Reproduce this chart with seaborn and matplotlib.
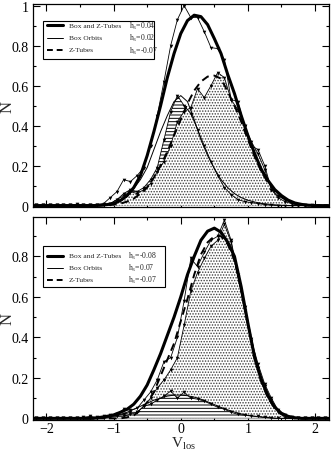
import numpy as np
import pandas as pd
import matplotlib
matplotlib.use("Agg")
import matplotlib.pyplot as plt
from matplotlib.lines import Line2D
from matplotlib.patches import Rectangle
from matplotlib.ticker import MultipleLocator
import seaborn as sns

# ---------------- data ----------------
# smooth Gauss-Hermite fits sampled every 0.1 from -2.2 to 2.2 (45 values)
x_fit = np.round(np.arange(-2.2, 2.2001, 0.1), 2)
# noisy simulation histograms, bin centres -2.15 .. 2.15 (44 values)
x_hist = np.round(np.arange(-2.15, 2.1501, 0.1), 2)

# ---- top panel ----
top_fit_total = [0, 0, 0, 0, 0, 0, 0, 0, 0, 0,
                 0.002, 0.005, 0.01, 0.025, 0.05, 0.09, 0.15, 0.25, 0.37, 0.50,
                 0.64, 0.76, 0.86, 0.925, 0.952, 0.945, 0.905, 0.835, 0.76, 0.655,
                 0.56, 0.45, 0.35, 0.26, 0.18, 0.125, 0.08, 0.05, 0.027, 0.013,
                 0.006, 0.002, 0, 0, 0]
top_fit_box = [0, 0, 0, 0, 0, 0, 0, 0, 0, 0,
               0.002, 0.005, 0.01, 0.025, 0.045, 0.085, 0.13, 0.19, 0.28, 0.37,
               0.45, 0.52, 0.55, 0.52, 0.43, 0.33, 0.25, 0.185, 0.13, 0.09,
               0.06, 0.04, 0.027, 0.018, 0.011, 0.007, 0.004, 0.002, 0, 0,
               0, 0, 0, 0, 0]
top_fit_ztube = [0, 0, 0, 0, 0, 0, 0, 0, 0, 0,
                 0, 0.002, 0.005, 0.01, 0.02, 0.035, 0.06, 0.09, 0.14, 0.20,
                 0.27, 0.35, 0.43, 0.51, 0.575, 0.62, 0.645, 0.65, 0.635, 0.57,
                 0.50, 0.42, 0.33, 0.245, 0.17, 0.115, 0.072, 0.042, 0.022, 0.01,
                 0.004, 0.001, 0, 0, 0]
top_sim_total = [0.002, 0.004, 0.002, 0.003, 0.005, 0.004, 0.006, 0.004, 0.005, 0.004,
                 0.01, 0.04, 0.07, 0.13, 0.12, 0.15, 0.19, 0.30, 0.45, 0.62,
                 0.80, 0.93, 1.0, 0.94, 0.94, 0.87, 0.79, 0.785, 0.73, 0.53,
                 0.52, 0.40, 0.30, 0.28, 0.20, 0.08, 0.05, 0.03, 0.012, 0.004,
                 0.002, 0.001, 0, 0]
top_sim_box = [0.001, 0.002, 0.001, 0.002, 0.003, 0.002, 0.004, 0.002, 0.003, 0.002,
               0.003, 0.01, 0.03, 0.06, 0.08, 0.07, 0.09, 0.13, 0.19, 0.33,
               0.47, 0.55, 0.50, 0.46, 0.38, 0.30, 0.22, 0.15, 0.09, 0.055,
               0.03, 0.02, 0.015, 0.01, 0.005, 0.002, 0, 0, 0, 0,
               0, 0, 0, 0]
top_sim_ztube = [0.001, 0.002, 0.001, 0.001, 0.002, 0.002, 0.002, 0.002, 0.002, 0.002,
                 0.003, 0.01, 0.03, 0.05, 0.07, 0.06, 0.08, 0.11, 0.17, 0.22,
                 0.30, 0.42, 0.47, 0.49, 0.585, 0.54, 0.60, 0.665, 0.64, 0.53,
                 0.48, 0.40, 0.32, 0.26, 0.18, 0.08, 0.04, 0.02, 0.01, 0.003,
                 0, 0, 0, 0]

# ---- bottom panel ----
bot_fit_total = [0, 0, 0, 0, 0, 0, 0, 0, 0, 0,
                 0.005, 0.01, 0.017, 0.03, 0.045, 0.07, 0.11, 0.165, 0.24, 0.32,
                 0.41, 0.50, 0.60, 0.71, 0.80, 0.88, 0.925, 0.94, 0.92, 0.87,
                 0.80, 0.65, 0.47, 0.30, 0.19, 0.11, 0.055, 0.025, 0.01, 0.003,
                 0, 0, 0, 0, 0]
bot_fit_box = [0, 0, 0, 0, 0, 0, 0, 0, 0.003, 0.003,
               0.005, 0.008, 0.012, 0.02, 0.03, 0.045, 0.06, 0.075, 0.09, 0.10,
               0.11, 0.115, 0.115, 0.112, 0.105, 0.095, 0.082, 0.068, 0.054, 0.042,
               0.031, 0.022, 0.015, 0.01, 0.006, 0.003, 0, 0, 0, 0,
               0, 0, 0, 0, 0]
bot_fit_ztube = [0, 0, 0, 0, 0, 0, 0, 0, 0, 0,
                 0, 0, 0, 0, 0.005, 0.015, 0.04, 0.08, 0.13, 0.21,
                 0.29, 0.37, 0.48, 0.59, 0.71, 0.81, 0.87, 0.90, 0.90, 0.86,
                 0.78, 0.64, 0.47, 0.31, 0.18, 0.10, 0.05, 0.02, 0.005, 0,
                 0, 0, 0, 0, 0]
bot_sim_total = [0.002, 0.003, 0.002, 0.003, 0.004, 0.003, 0.004, 0.005, 0.01, 0.005,
                 0.01, 0.015, 0.02, 0.045, 0.04, 0.05, 0.09, 0.13, 0.19, 0.28,
                 0.30, 0.40, 0.58, 0.79, 0.75, 0.82, 0.88, 0.90, 0.98, 0.88,
                 0.71, 0.55, 0.39, 0.27, 0.17, 0.10, 0.04, 0.015, 0.005, 0,
                 0, 0, 0, 0]
bot_sim_box = [0.001, 0.002, 0.001, 0.002, 0.002, 0.002, 0.003, 0.003, 0.005, 0.003,
               0.005, 0.01, 0.015, 0.02, 0.03, 0.03, 0.06, 0.07, 0.09, 0.11,
               0.135, 0.10, 0.13, 0.10, 0.095, 0.085, 0.07, 0.055, 0.045, 0.03,
               0.02, 0.015, 0.012, 0.01, 0.005, 0.003, 0, 0, 0, 0,
               0, 0, 0, 0]
bot_sim_ztube = [0.001, 0.001, 0.001, 0.001, 0.002, 0.001, 0.002, 0.002, 0.003, 0.002,
                 0.0, 0.005, 0.01, 0.01, 0.02, 0.03, 0.06, 0.10, 0.15, 0.19,
                 0.24, 0.30, 0.46, 0.63, 0.72, 0.79, 0.85, 0.88, 0.96, 0.87,
                 0.70, 0.53, 0.38, 0.25, 0.16, 0.09, 0.03, 0.01, 0.0, 0,
                 0, 0, 0, 0]

legend_names = ["Box and Z-Tubes", "Box Orbits", "Z-Tubes"]
top_h3 = ["h$_3$=0.04", "h$_3$=0.02", "h$_3$=-0.07"]
bot_h3 = ["h$_3$=-0.08", "h$_3$=0.07", "h$_3$=-0.07"]
x_ticks = [-2, -1, 0, 1, 2]
top_y_ticks = [0, 0.2, 0.4, 0.6, 0.8, 1]
top_y_ticklabels = ["0", "0.2", "0.4", "0.6", "0.8", "1"]
bot_y_ticks = [0, 0.2, 0.4, 0.6, 0.8]
bot_y_ticklabels = ["0", "0.2", "0.4", "0.6", "0.8"]

# ---------------- style ----------------
sns.set_theme(style="ticks")
plt.rcParams["font.family"] = ["Liberation Serif", "DejaVu Serif"]
plt.rcParams["mathtext.fontset"] = "custom"
plt.rcParams["mathtext.rm"] = "Liberation Serif"
plt.rcParams["mathtext.it"] = "Liberation Serif:italic"
plt.rcParams["hatch.linewidth"] = 0.7

W, H = 332, 452
fig = plt.figure(figsize=(W / 100, H / 100), dpi=100)
fig.patch.set_facecolor("white")
ax_top = fig.add_axes([33 / W, 1 - 208 / H, 295.5 / W, 203 / H])
ax_bot = fig.add_axes([33 / W, 1 - 421 / H, 295.5 / W, 203 / H])

LW_THICK, LW_THIN, LW_DASH = 2.2, 0.7, 1.4
DASH = (0, (4, 2.5))


def fill_dots(ax, y, z):
    ax.fill_between(x_hist, 0, y, facecolor="white", edgecolor="0.25",
                    hatch="......", linewidth=0, zorder=z)


def fill_lines(ax, y, z):
    ax.fill_between(x_hist, 0, y, facecolor="white", edgecolor="black",
                    hatch="-----", linewidth=0, zorder=z)


def draw_panel(ax, fit_tot, fit_box, fit_z, sim_tot, sim_box, sim_z, box_on_top):
    if box_on_top:
        fill_dots(ax, sim_z, 1)
        fill_lines(ax, sim_box, 1.5)
    else:
        fill_lines(ax, sim_box, 1)
        fill_dots(ax, sim_z, 1.5)
    for sim in (sim_tot, sim_box, sim_z):
        sns.lineplot(x=x_hist, y=sim, ax=ax, color="black", lw=0.6,
                     marker="v", markersize=2.6, markeredgewidth=0,
                     zorder=3, legend=False)
    sns.lineplot(x=x_fit, y=fit_box, ax=ax, color="black", lw=LW_THIN,
                 zorder=4, legend=False)
    sns.lineplot(x=x_fit, y=fit_z, ax=ax, color="black", lw=LW_DASH,
                 linestyle=DASH, zorder=4, legend=False)
    sns.lineplot(x=x_fit, y=fit_tot, ax=ax, color="black", lw=LW_THICK,
                 zorder=5, legend=False)


draw_panel(ax_top, top_fit_total, top_fit_box, top_fit_ztube,
           top_sim_total, top_sim_box, top_sim_ztube, box_on_top=False)
draw_panel(ax_bot, bot_fit_total, bot_fit_box, bot_fit_ztube,
           bot_sim_total, bot_sim_box, bot_sim_ztube, box_on_top=True)

for ax, ylim, yt, ytl in ((ax_top, (-0.007, 1.008), top_y_ticks, top_y_ticklabels),
                          (ax_bot, (-0.008, 0.995), bot_y_ticks, bot_y_ticklabels)):
    ax.set_xlim(-2.2, 2.2)
    ax.set_ylim(*ylim)
    ax.set_xticks(x_ticks)
    ax.set_yticks(yt)
    ax.set_yticklabels(ytl)
    ax.xaxis.set_minor_locator(MultipleLocator(0.5))
    ax.yaxis.set_minor_locator(MultipleLocator(0.1))
    ax.tick_params(which="both", direction="in", top=True, right=True,
                   colors="black", labelsize=10, pad=3)
    ax.tick_params(axis="x", pad=1.5)
    ax.tick_params(which="major", length=5, width=0.8)
    ax.tick_params(which="minor", length=2.5, width=0.8)
    for s in ax.spines.values():
        s.set_linewidth(0.9)
        s.set_color("black")
    ax.set_ylabel("N", fontsize=12)
    ax.yaxis.set_label_coords((16 - 33) / 295.5, 0.5)
    ax.set_facecolor("white")

ax_top.tick_params(labelbottom=False)
ax_top.set_xlabel("")
ax_bot.set_xlabel("V$_{\\rm los}$", fontsize=11)
ax_bot.xaxis.set_label_coords((184 - 33) / 295.5, -(435.5 - 421) / 203)


def px(x, y):
    return x / W, 1 - y / H


def add_legend(box, rows, h3_labels, h3_x):
    x0, y0, x1, y1 = box
    fig.add_artist(Rectangle(px(x0, y1), (x1 - x0) / W, (y1 - y0) / H,
                             transform=fig.transFigure, facecolor="white",
                             edgecolor="black", linewidth=0.8, zorder=20))
    styles = [dict(lw=LW_THICK), dict(lw=LW_THIN), dict(lw=LW_DASH, linestyle=(0, (3, 2)))]
    for yr, name, h3, st in zip(rows, legend_names, h3_labels, styles):
        (ax0, ay), (ax1, _) = px(47, yr), px(63, yr)
        fig.add_artist(Line2D([ax0, ax1], [ay, ay], transform=fig.transFigure,
                              color="black", zorder=21, **st))
        fig.text(69 / W, ay, name, fontsize=5.4, va="center", ha="left", zorder=22)
        fig.text(h3_x / W, ay, h3, fontsize=5.6, va="center", ha="left", zorder=22)


add_legend((43, 21.5, 154, 59.5), (26, 38.5, 51), top_h3, 129)
add_legend((43, 247, 165, 287.5), (256.5, 268.5, 280.5), bot_h3, 128.5)

fig.savefig("out.png", dpi=100, facecolor="white")
